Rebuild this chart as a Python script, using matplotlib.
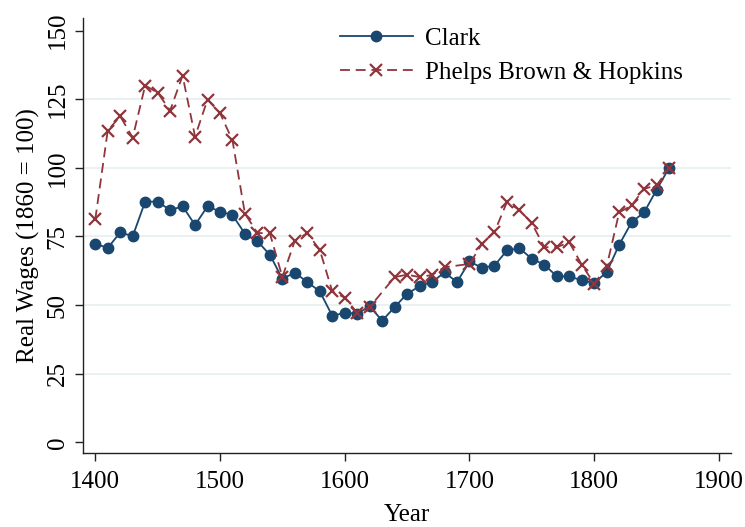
import numpy as np
import matplotlib.pyplot as plt

# real wages, 1860 = 100
years = list(range(1400, 1870, 10))

clark = [72.4, 70.8, 76.5, 75.1, 87.7, 87.7, 84.6, 86.0, 79.2, 86.0,
         84.1, 82.8, 76.0, 73.3, 68.3, 59.6, 61.8, 58.4, 55.0, 46.1,
         47.2, 46.9, 49.6, 44.3, 49.3, 54.1, 56.9, 58.4, 61.9, 58.4,
         65.9, 63.6, 64.4, 69.9, 70.7, 66.9, 64.7, 60.5, 60.5, 59.0,
         58.1, 62.0, 72.0, 80.2, 83.8, 92.0, 100.0]

# no observation for 1630 and 1690
phelps_brown = [81.2, 113.6, 118.8, 111.0, 130.0, 127.4, 120.9, 133.6, 111.4, 124.9,
                120.0, 110.0, 83.3, 76.3, 76.1, 60.2, 73.5, 76.2, 70.1, 55.0,
                52.7, 47.2, 49.3, None, 60.2, 61.1, 60.2, 61.0, 63.8, None,
                65.0, 72.3, 76.6, 87.5, 84.7, 79.8, 71.1, 71.1, 72.9, 64.7,
                57.8, 64.1, 83.8, 86.3, 92.4, 93.6, 100.0]

x_ticks = [1400, 1500, 1600, 1700, 1800, 1900]
y_ticks = [0, 25, 50, 75, 100, 125, 150]

NAVY = "#1a476f"
MAROON = "#90353b"
GRID = "#e8f0f1"
FS = 18

plt.rcParams["font.family"] = ["Liberation Serif", "DejaVu Serif"]

fig = plt.figure(figsize=(7.45, 5.27), dpi=100)
ax = fig.add_axes([0.1118, 0.1398, 0.8690, 0.8255])

# skip the missing years, line is drawn straight through them
pbh = np.array([np.nan if v is None else v for v in phelps_brown])
mask = ~np.isnan(pbh)
pbh_years = np.array(years)[mask]

ax.plot(years, clark, color=NAVY, lw=1.3, marker="o", ms=7.5,
        label="Clark", zorder=3)
ax.plot(pbh_years, pbh[mask], color=MAROON, lw=1.3, ls=(0, (5.5, 3.2)),
        marker="x", ms=8.5, mew=1.6, label="Phelps Brown & Hopkins", zorder=4)

ax.set_xlim(1390.4, 1909.4)
ax.set_ylim(-4, 154.5)
ax.set_xticks(x_ticks)
ax.set_yticks(y_ticks)

# grid lines only between the end ticks
for v in y_ticks[1:-1]:
    ax.axhline(v, color=GRID, lw=1.3, zorder=0)

for s in ["top", "right"]:
    ax.spines[s].set_visible(False)
for s in ["left", "bottom"]:
    ax.spines[s].set_linewidth(1.0)
    ax.spines[s].set_color("#222222")

ax.tick_params(axis="x", length=6, width=1.0, labelsize=FS, pad=7, color="#222222")
ax.tick_params(axis="y", length=5.5, width=1.0, labelsize=FS, pad=5, color="#222222")
for lab in ax.get_yticklabels():
    lab.set_rotation(90)
    lab.set_va("center")

ax.set_xlabel("Year", fontsize=FS, labelpad=8)
ax.set_ylabel("Real Wages (1860 = 100)", fontsize=FS, labelpad=5)

ax.legend(loc="upper left", bbox_to_anchor=(0.393, 0.984), frameon=False,
          fontsize=FS, handlelength=2.9, handletextpad=0.5, labelspacing=0.45,
          borderaxespad=0.0, borderpad=0.1)

fig.savefig("out.png", dpi=100)
